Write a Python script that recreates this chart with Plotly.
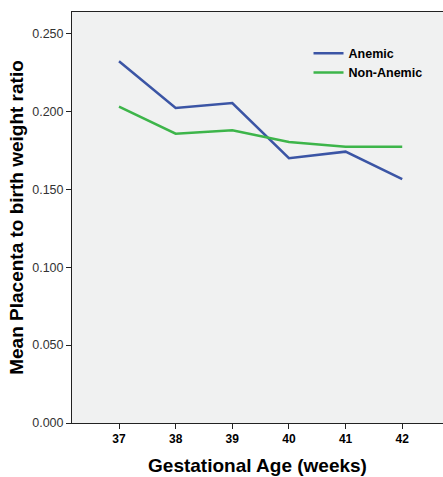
import plotly.graph_objects as go

weeks = [37, 38, 39, 40, 41, 42]
anemic = [0.2321, 0.2021, 0.2053, 0.1699, 0.1741, 0.1564]
non_anemic = [0.2030, 0.1856, 0.1878, 0.1803, 0.1773, 0.1773]
y_ticks = [0.0, 0.05, 0.10, 0.15, 0.20, 0.25]
y_tick_text = ["0.000", "0.050", "0.100", "0.150", "0.200", "0.250"]

fig = go.Figure()
fig.add_trace(go.Scatter(x=weeks, y=anemic, mode="lines", name="Anemic",
                         line=dict(color="#3B55A5", width=2.5)))
fig.add_trace(go.Scatter(x=weeks, y=non_anemic, mode="lines", name="Non-Anemic",
                         line=dict(color="#3DB54A", width=2.5)))

fig.update_layout(
    width=443, height=477,
    margin=dict(l=72, r=0, t=12, b=54),
    paper_bgcolor="white",
    plot_bgcolor="#F0F1F1",
    showlegend=True,
    legend=dict(x=0.6375, y=0.935, xanchor="left", yanchor="top",
                bgcolor="rgba(0,0,0,0)",
                font=dict(family="Liberation Sans, Arial", size=12.5, color="black", weight="bold"),
                tracegroupgap=0, itemwidth=30),
    font=dict(family="Liberation Sans, Arial"),
)
fig.update_xaxes(
    range=[36.17, 42.72], tickvals=weeks, ticktext=[str(w) for w in weeks],
    showgrid=False, zeroline=False, showline=True, linecolor="#222", linewidth=1,
    mirror=True,
    ticks="outside", ticklen=5, tickcolor="#222",
    tickfont=dict(family="Liberation Sans Narrow, Liberation Sans, Arial", size=12, color="black", weight="bold"),
    title=dict(text="Gestational Age (weeks)",
               font=dict(family="Liberation Sans, Arial", size=19, color="black", weight="bold"),
               standoff=13),
)
fig.update_yaxes(
    range=[0, 0.2637], tickvals=y_ticks, ticktext=y_tick_text,
    showgrid=False, zeroline=False, showline=True, linecolor="#222", linewidth=1,
    ticks="outside", ticklen=5, tickcolor="#222",
    tickfont=dict(family="Liberation Sans, Arial", size=12.5, color="#333"),
    title=dict(text="Mean Placenta to birth weight ratio",
               font=dict(family="Liberation Sans, Arial", size=19, color="black", weight="bold"),
               standoff=3),
)
fig.write_html("out.html", config={"displayModeBar": False},
               post_script="document.body.style.margin='0';document.body.style.overflow='hidden';")
